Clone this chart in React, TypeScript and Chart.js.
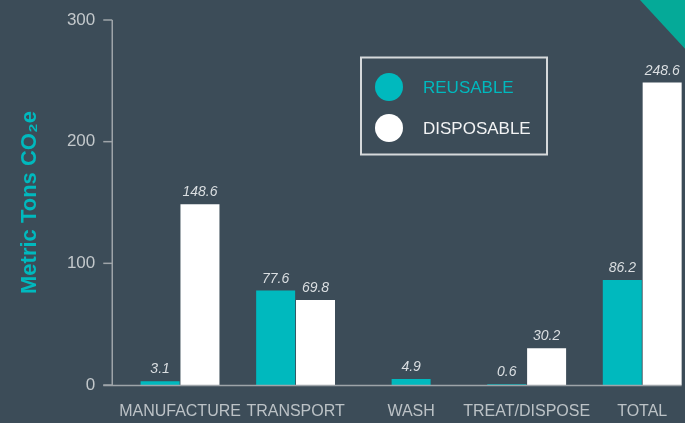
import React, { useEffect, useRef } from "react";
import { Chart, registerables } from "chart.js";

Chart.register(...registerables);

const categories = ["MANUFACTURE", "TRANSPORT", "WASH", "TREAT/DISPOSE", "TOTAL"];
const reusable: (number | null)[] = [3.1, 77.6, 4.9, 0.6, 86.2];
const disposable: (number | null)[] = [148.6, 69.8, null, 30.2, 248.6];
const seriesNames = ["REUSABLE", "DISPOSABLE"];
const yTicks = [0, 100, 200, 300];
const yTitle = "Metric Tons CO\u2082e";

const BG = "#3c4c58";
const TEAL = "#00b9be";
const WHITE = "#ffffff";
const AXIS = "#9ea4a9";
const FONT = "'Liberation Sans', Arial, Helvetica, sans-serif";

const decorPlugin = {
  id: "decor",
  beforeDraw(chart: any) {
    const { ctx } = chart;
    ctx.save();
    ctx.fillStyle = BG;
    ctx.fillRect(0, 0, chart.width, chart.height);
    ctx.restore();
  },
  afterDatasetsDraw(chart: any) {
    const { ctx, scales, chartArea } = chart;
    const y = scales.y;
    ctx.save();
    ctx.strokeStyle = AXIS;
    ctx.lineWidth = 1.5;
    const axX = chartArea.left - 10;
    const y0 = y.getPixelForValue(0);
    const yTop = y.getPixelForValue(300);
    ctx.beginPath();
    ctx.moveTo(axX, yTop);
    ctx.lineTo(axX, y0);
    ctx.stroke();
    yTicks.forEach((v) => {
      const py = y.getPixelForValue(v);
      ctx.beginPath();
      ctx.moveTo(axX - 9, py);
      ctx.lineTo(axX, py);
      ctx.stroke();
    });
    const lastMeta = chart.getDatasetMeta(1);
    const lastEl = lastMeta.data[lastMeta.data.length - 1];
    const endX = lastEl ? lastEl.x + lastEl.width / 2 : chartArea.right;
    ctx.beginPath();
    ctx.moveTo(axX - 9, y0 + 0.5);
    ctx.lineTo(endX, y0 + 0.5);
    ctx.stroke();

    ctx.font = `italic 14px ${FONT}`;
    ctx.fillStyle = "#dadee1";
    ctx.textAlign = "center";
    ctx.textBaseline = "alphabetic";
    chart.data.datasets.forEach((ds: any, di: number) => {
      const meta = chart.getDatasetMeta(di);
      meta.data.forEach((el: any, i: number) => {
        const v = ds.data[i];
        if (v === null || v === undefined) return;
        ctx.fillText(String(v), el.x, el.y - 8);
      });
    });
    ctx.restore();
  },
  afterDraw(chart: any) {
    const { ctx } = chart;
    ctx.save();
    ctx.fillStyle = "#05aa98";
    ctx.beginPath();
    ctx.moveTo(640, 0);
    ctx.lineTo(700, 0);
    ctx.lineTo(700, 65);
    ctx.closePath();
    ctx.fill();

    ctx.strokeStyle = "#d6d9db";
    ctx.lineWidth = 2;
    ctx.strokeRect(361, 57.5, 186, 97);
    const colors = [TEAL, WHITE];
    const textColors = [TEAL, "#f2f3f4"];
    const ys = [87, 128];
    ctx.font = `17px ${FONT}`;
    ctx.textAlign = "left";
    ctx.textBaseline = "middle";
    seriesNames.forEach((name, i) => {
      ctx.fillStyle = colors[i];
      ctx.beginPath();
      ctx.arc(389, ys[i], 14, 0, Math.PI * 2);
      ctx.fill();
      ctx.fillStyle = textColors[i];
      ctx.fillText(name, 423, ys[i] + 1);
    });
    ctx.restore();
  },
};

export default function App() {
  const ref = useRef<HTMLCanvasElement | null>(null);

  useEffect(() => {
    if (!ref.current) return;
    const chart = new Chart(ref.current, {
      type: "bar",
      data: {
        labels: categories,
        datasets: [
          { label: seriesNames[0], data: reusable, backgroundColor: TEAL, borderWidth: 0 },
          { label: seriesNames[1], data: disposable, backgroundColor: WHITE, borderWidth: 0 },
        ],
      },
      options: {
        responsive: false,
        animation: false,
        layout: { padding: { top: 20, bottom: 1, left: 0, right: 0 } },
        datasets: {
          bar: {
            skipNull: true,
            barPercentage: 1,
            categoryPercentage: 0.69,
            maxBarThickness: 39,
          },
        },
        plugins: {
          legend: { display: false },
          tooltip: { enabled: false },
        },
        scales: {
          x: {
            afterFit(scale: any) {
              scale.height = 37;
              scale.paddingLeft = 0;
              scale.paddingRight = 0;
              scale.paddingTop = 0;
              scale.paddingBottom = 0;
            },
            grid: { display: false, drawTicks: false },
            border: { display: false },
            ticks: {
              color: "#bcc2c6",
              font: { family: FONT, size: 16 },
              padding: 17,
              maxRotation: 0,
              minRotation: 0,
              autoSkip: false,
            },
          },
          y: {
            min: 0,
            max: 300,
            afterFit(scale: any) {
              scale.width = 122.25;
              scale.paddingTop = 0;
              scale.paddingBottom = 0;
            },
            afterBuildTicks(scale: any) {
              scale.ticks = yTicks.map((v) => ({ value: v }));
            },
            grid: { display: false, drawTicks: false },
            border: { display: false },
            ticks: {
              color: "#c3c8cb",
              font: { family: FONT, size: 17 },
              padding: 27,
            },
            title: {
              display: true,
              text: yTitle,
              color: TEAL,
              font: { family: FONT, size: 22, weight: "bold" },
              padding: { top: 17, bottom: 0 },
            },
          },
        },
      },
      plugins: [decorPlugin],
    });
    return () => chart.destroy();
  }, []);

  return (
    <div
      style={{
        position: "fixed",
        left: 0,
        top: 0,
        width: 685,
        height: 423,
        overflow: "hidden",
        background: BG,
      }}
    >
      <canvas ref={ref} width={700} height={423} style={{ display: "block" }} />
    </div>
  );
}
